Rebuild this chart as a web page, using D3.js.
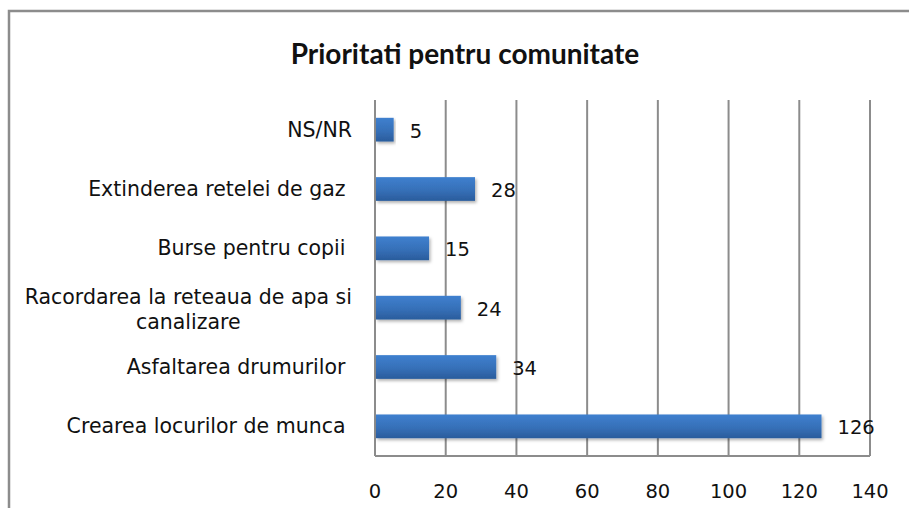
<!DOCTYPE html>
<html>
<head>
<meta charset="utf-8">
<script src="https://cdn.jsdelivr.net/npm/d3@7"></script>
<style>
  body { margin: 0; background: #fff; }
  svg text { white-space: pre; }
</style>
</head>
<body>
<svg id="chart" width="909" height="508"></svg>
<script>
// data, top to bottom as shown
var categories = [
  "NS/NR",
  "Extinderea retelei de gaz ",
  "Burse pentru copii ",
  "Racordarea la reteaua de apa si canalizare",
  "Asfaltarea drumurilor ",
  "Crearea locurilor de munca "
];
var values = [5, 28, 15, 24, 34, 126];
var ticks = [0, 20, 40, 60, 80, 100, 120, 140];
var title = "Prioritati pentru comunitate";

var svg = d3.select("#chart");
var plot = { left: 375, right: 870, top: 100, bottom: 456 };
var labelFont = "'DejaVu Sans', sans-serif";

// outer frame (runs off the right / bottom of the picture)
svg.append("rect")
  .attr("x", 9).attr("y", 11)
  .attr("width", 960).attr("height", 560)
  .attr("fill", "none")
  .attr("stroke", "#8c8c8c")
  .attr("stroke-width", 2.5);

var defs = svg.append("defs");
var grad = defs.append("linearGradient")
  .attr("id", "barGrad")
  .attr("x1", 0).attr("y1", 0).attr("x2", 0).attr("y2", 1);
grad.append("stop").attr("offset", "0%").attr("stop-color", "#3f80cf");
grad.append("stop").attr("offset", "55%").attr("stop-color", "#3670b8");
grad.append("stop").attr("offset", "100%").attr("stop-color", "#2a5c9c");

var shadow = defs.append("filter").attr("id", "barShadow")
  .attr("x", "-5%").attr("y", "-20%").attr("width", "115%").attr("height", "160%");
shadow.append("feDropShadow")
  .attr("dx", 1.5).attr("dy", 2).attr("stdDeviation", 1.5)
  .attr("flood-color", "#000").attr("flood-opacity", 0.3);

var x = d3.scaleLinear().domain([0, 140]).range([plot.left, plot.right]);
var y = d3.scaleBand().domain(categories)
  .range([plot.top, plot.bottom])
  .paddingInner(0.6).paddingOuter(0.3);

// title
svg.append("text")
  .attr("x", 465).attr("y", 64)
  .attr("text-anchor", "middle")
  .attr("font-family", "Lato, 'Open Sans', sans-serif")
  .attr("font-weight", "bold")
  .attr("font-size", 28)
  .attr("fill", "#111")
  .text(title);

// vertical gridlines
svg.append("g").selectAll("line")
  .data(ticks)
  .join("line")
  .attr("x1", d => x(d)).attr("x2", d => x(d))
  .attr("y1", plot.top).attr("y2", plot.bottom)
  .attr("stroke", "#8c8c8c")
  .attr("stroke-width", 2);

// bottom border of plot
svg.append("line")
  .attr("x1", plot.left).attr("x2", plot.right)
  .attr("y1", plot.bottom).attr("y2", plot.bottom)
  .attr("stroke", "#8c8c8c").attr("stroke-width", 2);

// x tick labels
svg.append("g").selectAll("text")
  .data(ticks)
  .join("text")
  .attr("x", d => x(d))
  .attr("y", 498)
  .attr("text-anchor", "middle")
  .attr("font-family", labelFont)
  .attr("font-size", 19.5)
  .attr("fill", "#111")
  .text(d => d);

// bars
svg.append("g").selectAll("rect")
  .data(values)
  .join("rect")
  .attr("x", x(0) + 1)
  .attr("y", (d, i) => y(categories[i]))
  .attr("width", d => x(d) - x(0))
  .attr("height", y.bandwidth())
  .attr("fill", "url(#barGrad)")
  .attr("filter", "url(#barShadow)");

// value labels
svg.append("g").selectAll("text")
  .data(values)
  .join("text")
  .attr("x", d => x(d) + 17)
  .attr("y", (d, i) => y(categories[i]) + y.bandwidth() / 2 + 8)
  .attr("font-family", labelFont)
  .attr("font-size", 19.5)
  .attr("fill", "#111")
  .text(d => d);

// category labels, long one wraps in two centred lines
var labelRight = 352;
var catSize = 20.5;
var catG = svg.append("g");
categories.forEach(function(c, i) {
  var cy = y(c) + y.bandwidth() / 2;
  var t = catG.append("text")
    .attr("font-family", labelFont)
    .attr("font-size", catSize)
    .attr("fill", "#111");
  if (c.length > 30) {
    var words = c.split(" ");
    var l1 = words.slice(0, 6).join(" "), l2 = words.slice(6).join(" ");
    t.attr("text-anchor", "end").attr("x", labelRight).attr("y", cy - 4).text(l1);
    var w = t.node().getComputedTextLength();
    catG.append("text")
      .attr("font-family", labelFont)
      .attr("font-size", catSize)
      .attr("fill", "#111")
      .attr("text-anchor", "middle")
      .attr("x", labelRight - w / 2)
      .attr("y", cy + 21)
      .text(l2);
  } else {
    t.attr("text-anchor", "end").attr("x", labelRight).attr("y", cy + 7).text(c);
  }
});
</script>
</body>
</html>
